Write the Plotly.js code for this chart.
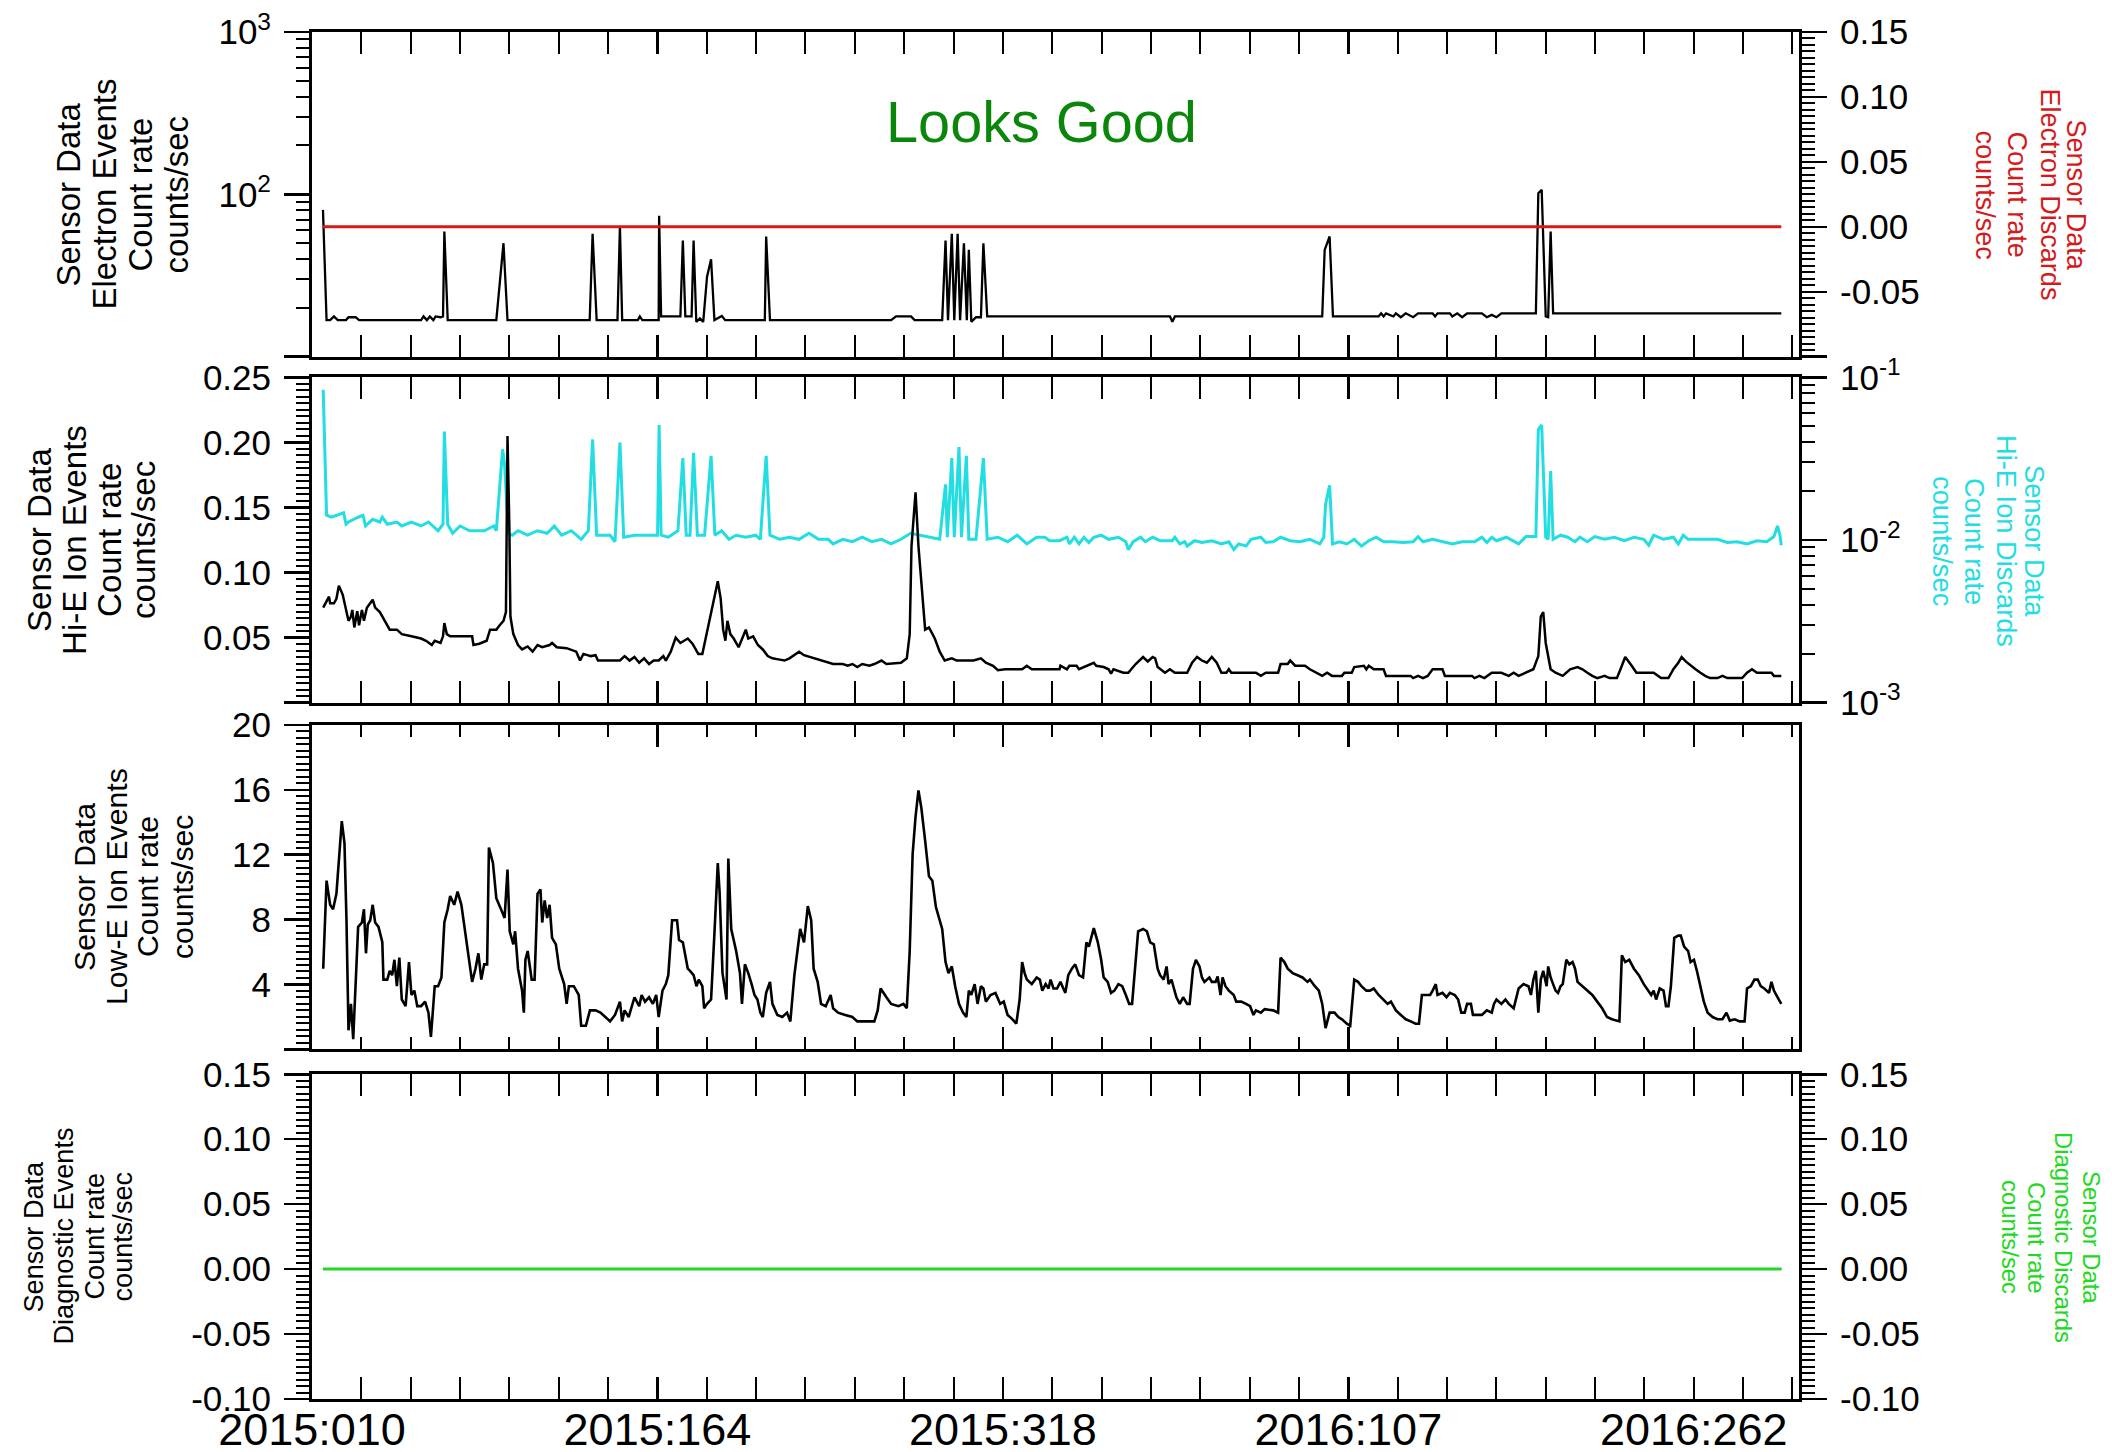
<!DOCTYPE html>
<html><head><meta charset="utf-8">
<script src="https://cdn.plot.ly/plotly-3.0.1.min.js"></script>
<style>html,body{margin:0;padding:0;background:#fff;}#chart{width:2112px;height:1452px;}</style>
</head><body><div id="chart"></div>
<script>
// ---------------- axis labels ----------------
const X_TICK_DAYS   = [10, 164.25, 318.5, 472.75, 627];          // day count from 2015:000
const X_TICK_LABELS = ['2015:010','2015:164','2015:318','2016:107','2016:262'];
const E_TICKS = [10, 100, 1000];
const E_LABELS = ['', '10<sup>2</sup>', '10<sup>3</sup>'];
const DISC_TICKS = [-0.1, -0.05, 0, 0.05, 0.1, 0.15];
const E_DISC_LABELS = ['', '-0.05', '0.00', '0.05', '0.10', '0.15'];
const HIE_TICKS = [0, 0.05, 0.1, 0.15, 0.2, 0.25];
const HIE_LABELS = ['', '0.05', '0.10', '0.15', '0.20', '0.25'];
const HIED_TICKS = [0.001, 0.01, 0.1];
const HIED_LABELS = ['10<sup>-3</sup>', '10<sup>-2</sup>', '10<sup>-1</sup>'];
const LOWE_TICKS = [0, 4, 8, 12, 16, 20];
const LOWE_LABELS = ['', '4', '8', '12', '16', '20'];
const DIAG_LABELS = ['-0.10', '-0.05', '0.00', '0.05', '0.10', '0.15'];

// ---------------- Electron Events (counts/sec, log) ----------------
const elecDays = [14.9,16.5,18.1,19.8,21.5,25.2,26.3,29.5,31.0,
 58.7,59.8,61.3,62.6,64.2,65.2,67.4,68.5,69.1,70.6,
 92.3,95.5,97.3, 134.0,135.3,137.1, 146.4,147.5,148.5, 155.5,156.4,157.5,
 164.8,165.0,165.9, 174.5,175.6,176.7, 179.5,180.4,181.6,
 183.2,184.7,186.4,188.2,189.7,191.2,193.0,194.5, 212.2,212.8,214.5,
 268.6,270.8,277.5,279.1,
 291.4,292.9,294.0,295.7,296.8,298.3,299.4,301.1,302.4,303.3,304.4,306.5,308.7,309.8,311.5,
 393.1,394.2,395.3, 461.1,462.2,464.4,465.9,
 486.3,487.4,488.5,489.6,492.9,494.0,496.2,498.4,501.7,503.9,510.4,511.5,512.6,518.1,519.2,521.4,523.6,525.8,532.4,534.6,536.8,538.9,541.1,
 556.5,557.6,559.1,560.9,562.0,563.1,564.2,666.1];
const elecRate = [80.2,16.8,16.8,17.7,16.8,16.8,17.5,17.5,16.8,
 16.8,17.7,16.8,17.7,16.8,17.7,17.5,17.7,59.0,16.8,
 16.8,50.0,16.8, 16.8,57.1,16.8, 16.8,63.3,16.8, 16.8,17.7,16.8,
 16.8,73.7,17.7, 17.7,51.9,17.7, 17.7,51.9,16.4,
 17.2,16.4,31.1,39.8,16.8,17.2,17.8,16.8, 16.8,55.0,16.8,
 16.8,17.7,17.7,16.8,
 16.8,51.9,16.8,57.1,16.8,57.1,16.8,50.0,16.8,45.5,16.4,17.5,17.5,50.0,17.7,
 17.7,16.4,17.7, 17.7,45.5,55.0,17.7,
 17.7,18.5,17.7,18.5,17.7,18.5,17.5,18.5,17.5,18.5,18.5,17.7,18.5,18.5,17.7,18.5,17.5,18.5,18.5,17.5,18.1,17.5,18.5,
 18.5,101.7,106.6,17.7,17.5,59.0,18.5,18.5];
// Electron Discards
const elecDiscDays = [14.9, 666.1];
const elecDiscRate = [0, 0];

// ---------------- Hi-E Ion Events (linear) ----------------
const hieDays = [15.0,16.5,17.6,18.1,19.8,20.9,22.0,23.7,25.2,26.3,
 27.4,28.0,28.9,30.2,31.0,32.3,33.2,34.5,37.1,38.2,
 40.3,42.5,44.7,47.9,50.1,54.4,58.7,60.9,63.5,64.8,
 67.4,68.5,69.1,70.2,71.7,81.5,82.1,84.7,88.0,89.5,
 92.3,93.8,95.5,96.6,97.3,98.1,98.6,99.9,102.0,103.8,
 106.3,108.5,110.7,112.8,116.1,117.2,119.3,123.7,128.0,129.7,
 131.2,134.5,136.6,137.7,147.5,149.6,151.8,154.0,156.1,158.3,
 160.5,162.6,164.8,166.9,168.0,170.2,172.4,174.5,177.8,179.9,
 182.5,184.3,187.5,189.7,191.2,192.5,193.6,194.6,195.5,196.8,
 198.3,200.5,202.0,203.7,204.8,207.0,209.1,211.3,213.5,215.6,
 218.9,221.0,223.2,227.5,229.7,234.0,237.3,240.5,242.7,247.0,
 249.2,251.3,253.5,255.7,258.9,261.1,264.3,266.5,273.0,275.6,
 276.9,277.7,279.5,280.8,282.3,283.8,285.5,288.1,290.3,292.5,
 295.7,297.9,301.1,305.4,308.7,310.9,314.1,316.3,319.5,327.1,
 329.2,331.4,335.0,343.8,344.2,347.1,348.2,351.4,352.5,355.8,
 358.0,359.1,360.2,363.5,365.7,366.8,367.9,372.3,374.5,377.8,
 381.1,383.2,385.4,386.5,387.6,390.9,393.1,395.3,400.8,403.0,
 405.2,407.4,409.6,411.8,414.0,416.1,418.3,419.4,420.5,431.5,
 433.7,435.9,441.4,442.5,445.7,446.8,449.0,453.4,455.6,458.9,
 461.1,463.3,465.5,469.9,471.0,474.3,475.4,479.7,480.8,481.9,
 484.1,488.5,489.6,500.6,501.7,503.9,506.1,508.2,510.4,514.8,
 515.9,528.0,529.1,531.3,533.5,536.8,541.1,544.4,546.6,548.8,
 552.1,555.4,557.6,558.7,559.8,560.9,563.1,565.3,568.5,571.8,
 575.1,577.3,579.5,581.7,583.9,587.2,589.4,592.7,594.9,596.4,
 599.3,601.4,609.1,612.4,615.7,617.9,620.1,621.6,623.4,625.6,
 627.8,630.0,632.1,634.3,637.6,639.8,642.0,648.6,650.8,653.0,
 655.2,661.7,662.8,666.1];
const hieRate = [.0730,.0781,.0815,.0764,.0764,.0798,.0899,.0831,.0713,.0629,
 .0662,.0713,.0578,.0703,.0595,.0713,.0629,.0730,.0791,.0730,
 .0696,.0629,.0561,.0561,.0527,.0510,.0493,.0476,.0443,.0476,
 .0459,.0510,.0612,.0527,.0510,.0510,.0443,.0453,.0476,.0561,
 .0561,.0595,.0629,.0696,.2049,.1373,.0662,.0527,.0443,.0409,
 .0432,.0392,.0443,.0426,.0443,.0459,.0426,.0419,.0392,.0324,
 .0375,.0358,.0365,.0324,.0324,.0358,.0324,.0351,.0307,.0341,
 .0297,.0324,.0324,.0358,.0324,.0392,.0500,.0459,.0493,.0453,
 .0375,.0375,.0629,.0831,.0933,.0798,.0561,.0476,.0629,.0527,
 .0493,.0426,.0493,.0561,.0493,.0510,.0443,.0409,.0358,.0341,
 .0331,.0324,.0341,.0392,.0365,.0341,.0324,.0307,.0297,.0297,
 .0284,.0297,.0274,.0297,.0284,.0297,.0324,.0297,.0307,.0341,
 .0527,.1203,.1616,.1203,.0865,.0561,.0578,.0493,.0392,.0324,
 .0341,.0324,.0324,.0324,.0341,.0307,.0284,.0250,.0257,.0257,
 .0284,.0257,.0257,.0257,.0284,.0257,.0284,.0284,.0257,.0284,
 .0297,.0307,.0284,.0274,.0257,.0223,.0257,.0230,.0230,.0297,
 .0351,.0317,.0351,.0341,.0274,.0230,.0257,.0230,.0230,.0307,
 .0351,.0324,.0307,.0351,.0307,.0230,.0230,.0257,.0230,.0230,
 .0206,.0230,.0230,.0297,.0297,.0324,.0284,.0284,.0257,.0230,
 .0206,.0230,.0206,.0206,.0230,.0230,.0274,.0284,.0257,.0284,
 .0257,.0257,.0206,.0206,.0189,.0206,.0189,.0206,.0257,.0257,
 .0206,.0206,.0189,.0206,.0189,.0230,.0230,.0206,.0230,.0206,
 .0230,.0257,.0358,.0662,.0696,.0459,.0257,.0230,.0206,.0257,
 .0274,.0257,.0230,.0206,.0189,.0206,.0189,.0189,.0284,.0351,
 .0284,.0230,.0230,.0189,.0189,.0257,.0307,.0351,.0317,.0284,
 .0257,.0230,.0206,.0189,.0189,.0206,.0189,.0189,.0230,.0257,
 .0230,.0230,.0206,.0206];

// ---------------- Hi-E Ion Discards (log) ----------------
const hieDiscDays = [15.0,16.5,18.7,24.1,25.2,26.3,30.6,32.8,33.9,37.1,
 40.3,41.4,43.6,47.9,50.1,54.4,58.7,62.0,66.3,68.5,
 69.1,70.6,72.8,76.1,80.4,86.9,91.2,92.3,95.1,96.0,
 97.7,99.4,102.0,106.3,110.7,115.0,118.2,121.5,125.8,130.2,
 133.4,135.3,137.1,143.1,145.3,147.5,149.2,154.0,164.3,165.0,
 165.9,169.1,173.4,175.6,177.1,178.8,180.4,182.1,185.3,188.2,
 189.9,192.9,196.2,199.4,203.7,208.1,210.2,212.8,214.5,218.9,
 223.2,227.5,231.9,236.2,240.5,242.7,247.0,251.3,255.7,260.0,
 264.3,268.6,273.0,277.3,281.6,286.0,290.3,292.9,293.7,295.7,
 296.8,298.9,300.0,302.2,303.3,306.5,309.8,311.5,316.3,320.6,
 324.9,329.2,333.6,337.2,339.4,343.8,347.1,348.2,350.4,352.5,
 354.7,356.9,359.1,362.4,365.7,370.1,373.4,374.5,376.7,380.0,
 382.1,385.4,388.7,394.2,395.3,397.5,399.7,400.8,404.1,407.4,
 411.8,416.1,419.4,421.6,423.8,427.1,429.3,433.7,435.9,439.2,
 442.5,446.8,451.2,455.6,460.0,461.8,462.6,464.4,465.7,468.8,
 472.1,475.4,478.6,481.9,485.2,488.5,492.9,497.3,501.7,503.9,
 506.1,510.4,514.8,519.2,523.6,529.1,532.4,534.6,536.8,538.9,
 543.3,548.8,552.1,556.5,557.6,559.1,560.9,562.0,563.1,564.2,
 567.5,570.7,574.0,576.2,579.5,582.8,587.2,591.6,596.0,600.3,
 604.7,606.9,609.1,613.5,617.9,620.1,622.3,624.5,637.6,642.0,
 646.4,650.8,655.2,659.6,662.8,664.4,665.5,666.1];
const hieDiscRate = [.0838,.0142,.0138,.0147,.0125,.0129,.0138,.0142,.0122,.0134,
 .0129,.0138,.0125,.0129,.0122,.0129,.0122,.0129,.0114,.0125,
 .0464,.0125,.0110,.0122,.0114,.0114,.0122,.0114,.0361,.0291,
 .0110,.0107,.0114,.0107,.0114,.0110,.0122,.0107,.0114,.0101,
 .0114,.0415,.0107,.0107,.00976,.0397,.0104,.0107,.0107,.0509,
 .0107,.0104,.0114,.0319,.0107,.0107,.0344,.0107,.0107,.0329,
 .0107,.0114,.0101,.0107,.0104,.0107,.0101,.0329,.0107,.0101,
 .0104,.0101,.0110,.0101,.0101,.00946,.0101,.00976,.0104,.00976,
 .0101,.00946,.0101,.0110,.0107,.0104,.0101,.0220,.0104,.0319,
 .0104,.0373,.0104,.0329,.0101,.0101,.0319,.0101,.0104,.00976,
 .0107,.00946,.0104,.0104,.0099,.0099,.0104,.00946,.0104,.00946,
 .0104,.00965,.0104,.0107,.0101,.0104,.00976,.00873,.00976,.0104,
 .00976,.0104,.0099,.0099,.0104,.00946,.00976,.00918,.0099,.00965,
 .0099,.00946,.00976,.00873,.00946,.00918,.0101,.0104,.00965,.00976,
 .0104,.0099,.00976,.0101,.00946,.0104,.0166,.0217,.00946,.00976,
 .00946,.0101,.00918,.0099,.0104,.00976,.00976,.00965,.00976,.0105,
 .00976,.0101,.00976,.00946,.00976,.00976,.0104,.00965,.0104,.0099,
 .0104,.00946,.0105,.0105,.0478,.0509,.0104,.0101,.0265,.0101,
 .0107,.0104,.00976,.0104,.00976,.0105,.0101,.0104,.0099,.0104,
 .0101,.00929,.0107,.0101,.0104,.00946,.0107,.0101,.0101,.00965,
 .00976,.00946,.0099,.00976,.0105,.0122,.0107,.00929];

// ---------------- Low-E Ion Events ----------------
const loweDays = [15.0,16.5,18.1,19.4,20.9,22.0,23.3,24.5,25.4,26.3,
 27.4,28.4,29.3,30.6,32.3,33.2,34.1,34.9,36.0,37.1,
 38.2,39.7,41.4,41.9,43.6,44.7,45.8,46.8,47.9,49.0,
 50.1,51.8,53.3,54.4,55.7,57.0,58.7,60.5,62.0,63.1,
 64.8,66.3,67.8,69.1,70.6,71.7,73.5,75.0,76.7,78.2,
 80.0,81.5,83.0,84.3,85.6,86.9,88.2,89.0,90.8,92.3,
 94.4,96.0,97.3,98.3,99.9,100.7,102.0,103.8,104.6,105.3,
 106.3,108.1,109.4,110.7,112.0,112.8,113.9,115.0,116.1,117.2,
 118.9,120.4,122.6,123.7,124.7,126.9,129.1,130.2,132.3,134.1,
 136.6,138.8,141.0,143.1,145.3,147.5,148.5,149.6,151.4,152.9,
 154.0,156.1,157.2,158.7,160.5,162.2,163.7,164.8,166.5,168.0,
 169.1,170.8,173.0,173.9,175.6,176.7,177.8,178.8,180.4,181.7,
 182.7,184.3,185.1,186.4,188.2,189.7,191.2,192.0,193.3,195.1,
 195.9,197.2,199.4,201.1,202.0,203.3,204.8,206.3,207.6,208.9,
 210.2,211.3,212.8,214.5,215.6,217.8,220.0,222.1,223.6,225.4,
 226.7,228.0,229.7,231.4,232.9,234.0,235.8,237.3,239.4,241.6,
 242.7,244.9,248.1,251.3,253.5,261.1,262.6,263.9,266.5,268.6,
 271.9,274.1,275.6,276.9,278.2,279.5,280.8,282.1,283.8,285.5,
 287.0,288.6,291.4,292.9,294.2,295.7,297.2,298.9,300.7,302.2,
 303.3,304.4,305.9,307.2,308.7,309.8,310.9,313.0,315.2,317.3,
 318.9,320.6,322.8,324.5,326.0,327.1,328.2,329.2,331.4,333.6,
 335.0,336.1,337.6,338.9,339.8,341.1,342.7,344.2,345.5,346.4,
 347.7,349.3,350.8,352.5,354.3,355.8,356.9,358.0,359.1,360.9,
 362.4,363.5,365.3,366.8,368.3,370.1,371.8,373.4,374.9,376.2,
 377.8,378.9,381.1,382.8,384.3,385.9,387.6,388.7,390.3,391.6,
 392.5,393.8,394.6,396.0,397.5,399.0,400.8,401.9,403.4,404.7,
 406.3,407.4,408.5,410.7,411.8,413.5,414.4,415.7,416.6,417.9,
 419.4,421.6,422.7,424.9,427.1,428.9,430.4,431.5,433.7,435.4,
 439.2,441.4,442.5,444.2,445.7,447.9,450.1,452.3,454.5,455.6,
 457.8,459.6,461.1,462.6,464.4,466.6,468.3,469.9,472.1,473.6,
 475.4,477.1,478.6,480.8,482.4,484.1,486.3,488.5,490.3,491.8,
 494.0,496.2,498.4,500.6,502.8,504.3,505.6,507.2,509.3,510.4,
 511.8,512.6,514.8,516.6,518.1,520.3,521.8,523.2,524.7,525.8,
 527.5,528.4,532.4,534.6,536.8,537.8,538.9,541.1,542.9,544.4,
 546.6,548.8,551.0,553.2,554.3,555.4,556.5,557.6,558.7,559.8,
 561.3,562.0,563.1,564.2,565.3,566.4,567.5,568.5,570.1,571.4,
 572.9,574.0,575.1,577.3,579.5,581.7,583.9,586.1,588.3,590.5,
 593.8,594.9,596.4,598.2,600.3,602.5,604.7,606.5,608.0,609.1,
 610.2,611.8,613.5,614.6,615.7,616.8,618.3,620.1,621.2,622.7,
 624.5,625.6,627.1,628.4,630.0,631.5,633.2,635.4,637.6,639.8,
 641.6,643.1,645.3,647.5,649.7,650.8,652.5,654.1,655.6,656.9,
 658.5,660.6,661.7,662.8,665.0,666.1];
const loweRate = [4.97,10.40,8.91,8.64,9.59,11.76,14.07,12.71,7.96,1.17,
 2.80,0.63,3.35,7.55,7.82,8.64,5.92,7.69,7.96,8.91,
 7.82,7.55,6.60,4.30,4.30,4.84,4.57,5.52,3.89,5.65,
 3.07,2.66,5.38,3.35,3.62,2.66,2.66,2.94,2.26,0.77,
 3.89,3.89,4.43,7.82,8.64,9.45,8.91,9.72,8.91,7.42,
 5.79,4.16,4.97,5.92,4.30,5.24,5.24,12.44,11.49,9.32,
 8.64,8.10,11.08,7.28,6.47,7.28,4.97,3.62,2.26,5.52,
 6.06,4.30,4.30,9.59,9.86,7.82,9.18,8.10,8.91,6.87,
 6.47,4.97,4.02,2.80,3.89,3.89,3.35,1.45,1.45,2.40,
 2.40,2.26,1.99,1.72,2.12,2.94,1.72,2.40,1.99,2.80,
 3.21,2.66,3.35,2.94,3.21,2.80,3.35,1.99,3.62,4.02,
 4.57,7.96,7.96,6.74,6.60,5.79,4.97,4.84,4.57,3.89,
 4.30,3.89,2.53,2.80,3.07,7.15,11.49,9.72,4.70,3.07,
 11.76,7.42,6.06,4.70,2.80,5.24,4.70,4.02,3.35,3.07,
 2.26,1.99,3.48,4.16,2.80,2.12,1.99,2.26,1.72,4.57,
 6.06,7.42,6.60,8.83,7.96,4.97,4.16,2.80,2.66,3.35,
 2.53,2.26,2.12,1.99,1.72,1.72,2.40,3.75,3.21,2.80,
 2.66,2.80,2.53,6.06,12.03,14.34,15.97,14.88,12.85,10.67,
 10.40,8.77,7.42,5.38,4.70,5.11,3.89,2.80,2.26,1.99,
 3.62,3.35,4.02,2.80,3.89,3.75,2.94,3.35,3.48,2.80,
 2.94,2.12,1.85,1.58,3.07,5.38,4.70,4.30,4.02,4.43,
 4.30,3.62,4.02,3.75,4.30,3.75,3.75,4.16,3.75,3.48,
 4.57,4.97,5.24,4.57,4.43,6.60,6.33,6.87,7.47,6.60,
 5.52,4.43,4.16,3.48,3.62,4.02,3.89,3.35,2.80,2.80,
 5.79,7.28,7.42,7.28,6.60,6.47,4.97,4.57,4.30,5.11,
 4.02,4.30,3.89,3.21,2.80,3.21,2.80,2.80,4.97,5.52,
 5.11,4.43,4.16,4.43,4.16,4.16,4.49,3.35,4.43,3.89,
 3.62,3.35,2.94,2.94,2.80,2.66,2.12,2.40,2.26,2.48,
 2.40,2.26,5.65,5.38,4.97,4.70,4.57,4.43,4.16,4.30,
 3.89,3.62,2.80,1.31,2.26,2.26,1.99,1.85,1.58,1.45,
 4.30,4.16,3.89,3.62,3.62,3.75,3.35,3.07,2.80,2.94,
 2.40,2.12,1.85,1.72,1.58,1.58,3.35,3.35,3.35,3.62,
 4.02,3.35,3.48,3.21,3.48,3.35,3.07,2.26,2.26,2.80,
 2.80,2.12,2.12,2.40,2.26,2.80,3.07,2.80,3.07,2.80,
 2.53,3.75,4.02,3.89,3.35,4.30,4.84,2.26,4.30,4.84,
 3.89,5.11,4.43,4.02,3.62,3.48,3.89,4.02,5.52,5.24,
 5.38,4.97,4.16,3.89,3.62,3.35,2.94,2.53,1.99,1.85,
 1.72,5.79,5.38,5.52,4.97,4.57,4.02,3.62,3.35,3.62,
 3.07,3.75,3.62,2.66,2.66,3.89,6.87,7.01,7.01,6.33,
 6.06,5.38,5.52,4.84,3.89,2.94,2.26,1.99,1.85,1.85,
 2.26,1.77,1.85,1.72,1.72,3.75,3.89,4.30,4.30,3.89,
 3.75,3.48,4.16,3.62,3.07,2.80];

// ---------------- Diagnostic Events / Discards ----------------
const diagDays = [14.9, 666.1];
const diagRate = [0, 0];
const diagDiscDays = [14.9, 666.1];
const diagDiscRate = [0, 0];

// ---------------- geometry & style ----------------
const W = 2112, H = 1452, L = 312, R = 313, T = 32, B = 53;
const PW = W - L - R, PH = H - T - B;
const pyTop = px => (H - B - px) / PH;     // page pixel -> paper y
const pxX = px => (px - L) / PW;           // page pixel -> paper x
const RED = '#d41a1a', CYAN = '#22dde2', GREEN = '#22d822', DKGREEN = '#0a870a';
const BASE_FONT = 'Liberation Sans, Arial, Helvetica, sans-serif';

function fontAvailable(name) {
  const c = document.createElement('canvas').getContext('2d');
  const s = 'Electron Events Discards 0123';
  c.font = '40px monospace'; const a = c.measureText(s).width;
  c.font = '40px "' + name + '", monospace'; const b = c.measureText(s).width;
  return Math.abs(a - b) > 0.5;
}
const TITLE_FAMILY = fontAvailable('Liberation Sans Narrow') ? 'Liberation Sans Narrow' : 'Liberation Sans';
function sizeFor(text, targetPx, family) {
  const c = document.createElement('canvas').getContext('2d');
  c.font = '100px "' + family + '"';
  return targetPx / (c.measureText(text).width / 100);
}

const xMinor = [];
for (let k = 0; k <= 30; k++) xMinor.push(10 + k * (154.25 / 7));
function logMinor(lo, hi) {
  const v = [];
  for (let e = lo; e < hi; e++) for (let m = 2; m <= 9; m++) v.push(m * Math.pow(10, e));
  return v;
}

const tickFont = {family: BASE_FONT, size: 35, color: '#000'};
function xAxis(anchor, labels) {
  return {anchor: anchor, domain: [0, 1], range: [10, 674], showgrid: false, zeroline: false,
    showline: true, linewidth: 3, linecolor: '#000', mirror: 'allticks',
    ticks: 'inside', ticklen: 22, tickwidth: 2.5, tickcolor: '#000',
    tickmode: 'array', tickvals: X_TICK_DAYS, ticktext: X_TICK_LABELS, showticklabels: labels,
    tickfont: {family: BASE_FONT, size: 45, color: '#000'}, ticklabelstandoff: -11,
    minor: {tickmode: 'array', tickvals: xMinor, ticks: 'inside', ticklen: 12, tickwidth: 2, tickcolor: '#000'}};
}
function yAxis(o) {
  return Object.assign({showgrid: false, zeroline: false, showline: true, linewidth: 3, linecolor: '#000',
    ticks: 'outside', ticklen: 25, tickwidth: 2.5, tickcolor: '#000', tickfont: tickFont,
    tickmode: 'array', ticklabelstandoff: 6}, o);
}
const linMinor = d => ({tick0: 0, dtick: d, ticks: 'outside', ticklen: 13, tickwidth: 2, tickcolor: '#000'});
const arrMinor = v => ({tickmode: 'array', tickvals: v, ticks: 'outside', ticklen: 13, tickwidth: 2, tickcolor: '#000'});

const D1 = [pyTop(356.7), 1], D2 = [pyTop(702.7), pyTop(377.3)], D3 = [pyTop(1049.3), pyTop(725)], D4 = [0, pyTop(1074.3)];

const layout = {
  width: W, height: H, margin: {l: L, r: R, t: T, b: B, autoexpand: false},
  paper_bgcolor: '#fff', plot_bgcolor: '#fff', showlegend: false, hovermode: false,
  xaxis: xAxis('y', false), xaxis2: xAxis('y4', false), xaxis3: xAxis('y5', false), xaxis4: xAxis('y6', true),
  yaxis: yAxis({domain: D1, anchor: 'x', side: 'left', type: 'log', range: [1, 3], tickvals: E_TICKS, ticktext: E_LABELS, minor: arrMinor(logMinor(1, 3))}),
  yaxis2: yAxis({overlaying: 'y', anchor: 'x', side: 'right', range: [-0.1, 0.15], tickvals: DISC_TICKS, ticktext: E_DISC_LABELS, minor: linMinor(0.005)}),
  yaxis4: yAxis({domain: D2, anchor: 'x2', side: 'right', type: 'log', range: [-3, -1], tickvals: HIED_TICKS, ticktext: HIED_LABELS, minor: arrMinor(logMinor(-3, -1))}),
  yaxis3: yAxis({overlaying: 'y4', anchor: 'x2', side: 'left', range: [0, 0.25], tickvals: HIE_TICKS, ticktext: HIE_LABELS, minor: linMinor(0.005)}),
  yaxis5: yAxis({domain: D3, anchor: 'x3', side: 'left', range: [0, 20], tickvals: LOWE_TICKS, ticktext: LOWE_LABELS, mirror: true, minor: linMinor(0.4)}),
  yaxis6: yAxis({domain: D4, anchor: 'x4', side: 'left', range: [-0.1, 0.15], tickvals: DISC_TICKS, ticktext: DIAG_LABELS, minor: linMinor(0.005)}),
  yaxis7: yAxis({overlaying: 'y6', anchor: 'x4', side: 'right', range: [-0.1, 0.15], tickvals: DISC_TICKS, ticktext: DIAG_LABELS, minor: linMinor(0.005)}),
  annotations: []
};

// axis titles, one annotation per line (IDL-style tight line spacing)
const titles = [
  {lines: ['Sensor Data', 'Electron Events', 'Count rate', 'counts/sec'], key: 1, len: 231, xs: [68, 104, 140, 176], cy: 194.5, angle: -90, color: '#000'},
  {lines: ['Sensor Data', 'Hi-E Ion Events', 'Count rate', 'counts/sec'], key: 1, len: 230, xs: [39, 74, 109, 143], cy: 540, angle: -90, color: '#000'},
  {lines: ['Sensor Data', 'Low-E Ion Events', 'Count rate', 'counts/sec'], key: 1, len: 237, xs: [84, 116, 147, 182], cy: 887, angle: -90, color: '#000'},
  {lines: ['Sensor Data', 'Diagnostic Events', 'Count rate', 'counts/sec'], key: 1, len: 217, xs: [33, 63, 94, 122], cy: 1236.5, angle: -90, color: '#000'},
  {lines: ['Sensor Data', 'Electron Discards', 'Count rate', 'counts/sec'], key: 1, len: 212, xs: [2075, 2049, 2016, 1984], cy: 194.5, angle: 90, color: RED},
  {lines: ['Sensor Data', 'Hi-E Ion Discards', 'Count rate', 'counts/sec'], key: 1, len: 212, xs: [2035, 2007, 1975, 1943], cy: 541, angle: 90, color: CYAN},
  {lines: ['Sensor Data', 'Diagnostic Discards', 'Count rate', 'counts/sec'], key: 1, len: 211, xs: [2092, 2064, 2037, 2011], cy: 1237, angle: 90, color: GREEN}
];
titles.forEach(t => {
  const size = sizeFor(t.lines[t.key], t.len, TITLE_FAMILY);
  t.lines.forEach((txt, i) => {
    layout.annotations.push({xref: 'paper', yref: 'paper', x: pxX(t.xs[i]), y: pyTop(t.cy), text: txt,
      showarrow: false, textangle: t.angle, xanchor: 'center', yanchor: 'middle',
      font: {family: TITLE_FAMILY, size: size, color: t.color}});
  });
});
layout.annotations.push({xref: 'paper', yref: 'paper', x: pxX(1041.5), y: pyTop(122), text: 'Looks Good',
  showarrow: false, xanchor: 'center', yanchor: 'middle',
  font: {family: BASE_FONT, size: sizeFor('Looks Good', 311, 'Liberation Sans'), color: DKGREEN}});

const ln = (x, y, xa, ya, color, w) => ({x: x, y: y, xaxis: xa, yaxis: ya, type: 'scatter', mode: 'lines',
  line: {color: color, width: w}, hoverinfo: 'skip'});
const traces = [
  ln(elecDays, elecRate, 'x', 'y', '#000', 2.3),
  ln(elecDiscDays, elecDiscRate, 'x', 'y2', RED, 3),
  ln(hieDiscDays, hieDiscRate, 'x2', 'y4', CYAN, 3),
  ln(hieDays, hieRate, 'x2', 'y3', '#000', 2.5),
  ln(loweDays, loweRate, 'x3', 'y5', '#000', 2.6),
  ln(diagDays, diagRate, 'x4', 'y6', '#000', 2),
  ln(diagDiscDays, diagDiscRate, 'x4', 'y7', GREEN, 3)
];
Plotly.newPlot('chart', traces, layout, {staticPlot: true});
</script></body></html>
